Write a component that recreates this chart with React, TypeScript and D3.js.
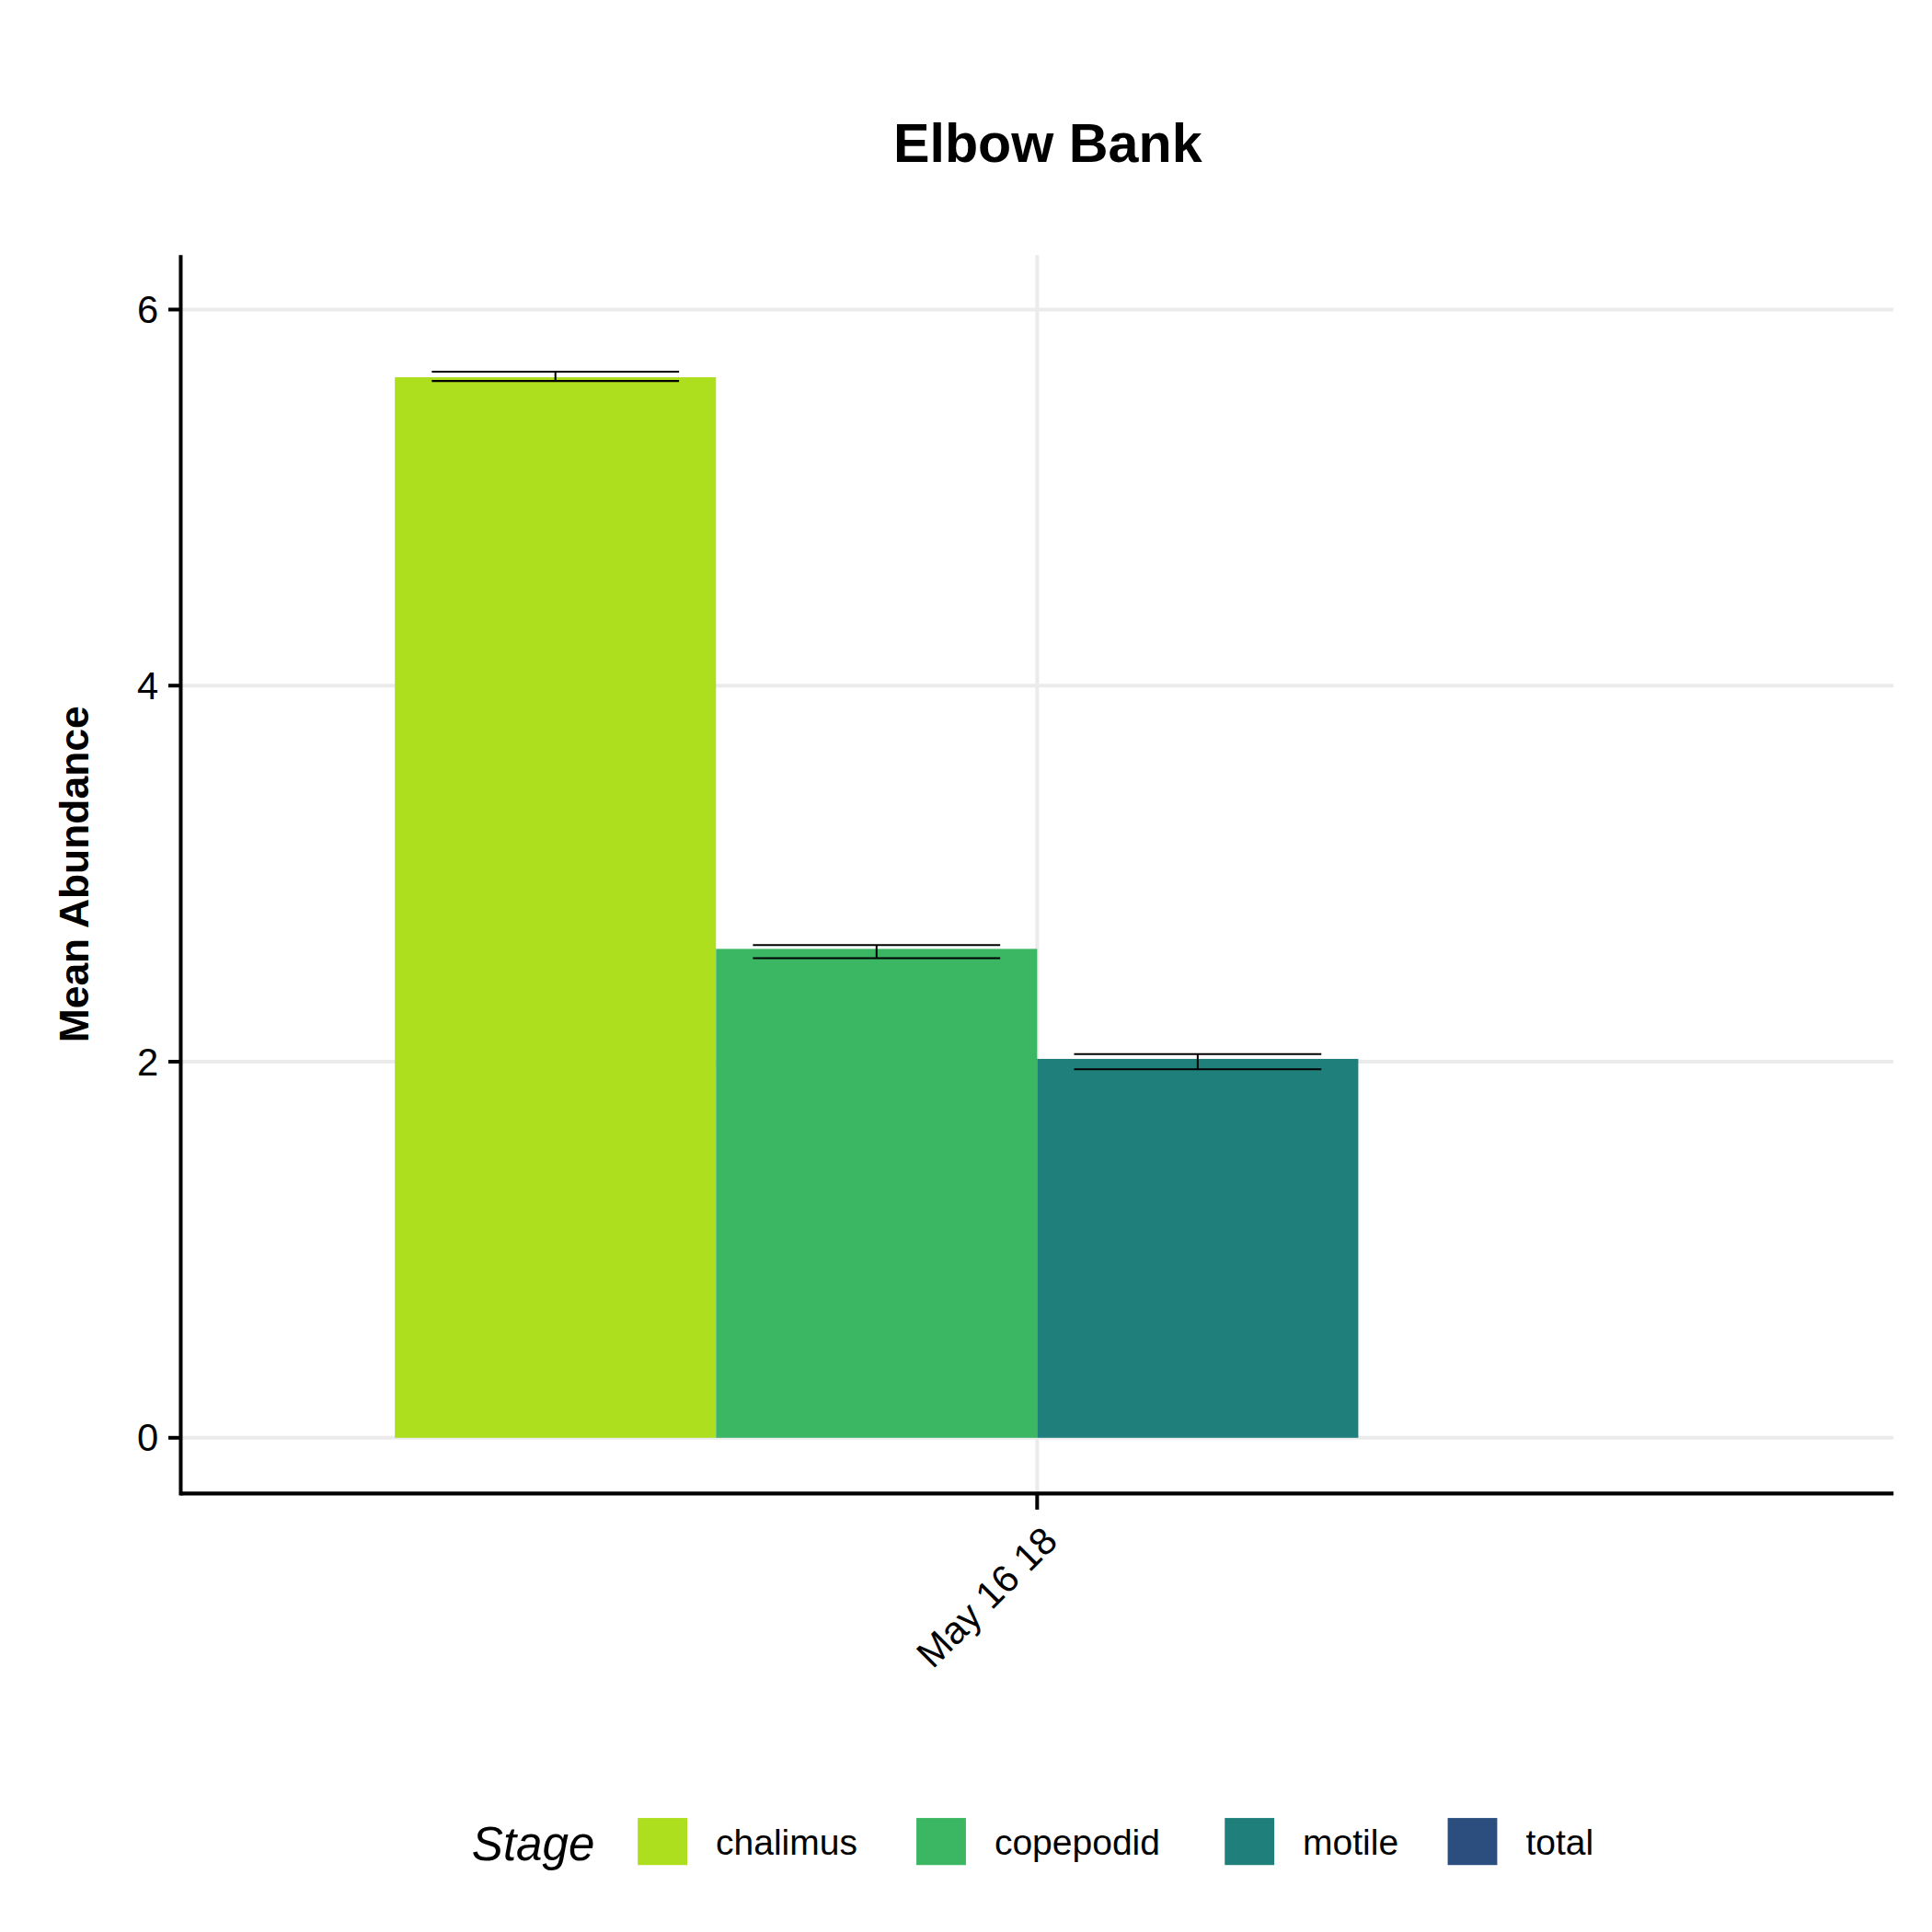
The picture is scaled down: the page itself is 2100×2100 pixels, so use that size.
import React from "react";
import * as d3 from "d3";

const stages = ["chalimus", "copepodid", "motile", "total"];
const colors = ["#addf1f", "#3bb662", "#1f807b", "#2c4e7e"];
const dates = ["May 16 18"];
const means = [5.64, 2.6, 2.015, null];
const lower = [5.62, 2.55, 1.96, null];
const upper = [5.67, 2.62, 2.04, null];
const yTicks = [0, 2, 4, 6];

const S = 1560;

export default function App() {
  const left = 140, right = 1523, top = 200, bottom = 1200;
  const y = d3.scaleLinear().domain([0, 6]).range([1155, 244]);
  const x = d3.scaleBand().domain(dates).range([left, right]).paddingInner(0.25).paddingOuter(0.125);
  const inner = d3.scaleBand().domain(stages).range([0, x.bandwidth()]);
  const font = "Liberation Sans, Arial, sans-serif";
  const cx = (x(dates[0]) as number) + x.bandwidth() / 2;
  return (
    <svg width={2100} height={2100} viewBox={`0 0 ${S} ${S}`} style={{ display: "block", background: "#fff" }} fontFamily={font}>
      <rect width={S} height={S} fill="#fff" />
      {yTicks.map((t) => (
        <line key={t} x1={left} x2={right} y1={y(t)} y2={y(t)} stroke="#ebebeb" strokeWidth={3} />
      ))}
      <line x1={cx} x2={cx} y1={top} y2={bottom} stroke="#ebebeb" strokeWidth={3} />
      {stages.map((s, i) =>
        means[i] == null ? null : (
          <rect key={s} x={(x(dates[0]) as number) + (inner(s) as number)} width={inner.bandwidth()}
            y={y(means[i] as number)} height={y(0) - y(means[i] as number)} fill={colors[i]} />
        )
      )}
      {stages.map((s, i) => {
        if (means[i] == null) return null;
        const c = (x(dates[0]) as number) + (inner(s) as number) + inner.bandwidth() / 2;
        const hw = inner.bandwidth() * 0.385;
        return (
          <g key={s} stroke="#000" strokeWidth={1.5}>
            <line x1={c - hw} x2={c + hw} y1={y(upper[i] as number)} y2={y(upper[i] as number)} />
            <line x1={c - hw} x2={c + hw} y1={y(lower[i] as number)} y2={y(lower[i] as number)} />
            <line x1={c} x2={c} y1={y(upper[i] as number)} y2={y(lower[i] as number)} />
          </g>
        );
      })}
      <line x1={left} x2={left} y1={top} y2={bottom + 1.5} stroke="#000" strokeWidth={3} />
      <line x1={left} x2={right} y1={bottom} y2={bottom} stroke="#000" strokeWidth={3} />
      {yTicks.map((t) => (
        <g key={t}>
          <line x1={left - 10} x2={left} y1={y(t)} y2={y(t)} stroke="#000" strokeWidth={3} />
          <text x={left - 18} y={y(t)} dy="0.35em" textAnchor="end" fontSize={31}>{t}</text>
        </g>
      ))}
      <line x1={cx} x2={cx} y1={bottom} y2={bottom + 13} stroke="#000" strokeWidth={3} />
      <text transform={`translate(${cx + 18},${bottom + 40}) rotate(-45)`} textAnchor="end" fontSize={31}>{dates[0]}</text>
      <text x={840} y={125} textAnchor="middle" fontSize={44} fontWeight="bold">Elbow Bank</text>
      <text transform={`translate(65,700) rotate(-90)`} textAnchor="middle" fontSize={33} fontWeight="bold">Mean Abundance</text>
      <text x={375} y={1496} fontSize={38} fontStyle="italic">Stage</text>
      {stages.map((s, i) => {
        const xs = [509, 734, 983, 1163][i];
        return (
          <g key={s}>
            <rect x={xs} y={1462} width={40} height={38} fill={colors[i]} />
            <text x={xs + 63} y={1492} fontSize={29}>{s}</text>
          </g>
        );
      })}
    </svg>
  );
}
